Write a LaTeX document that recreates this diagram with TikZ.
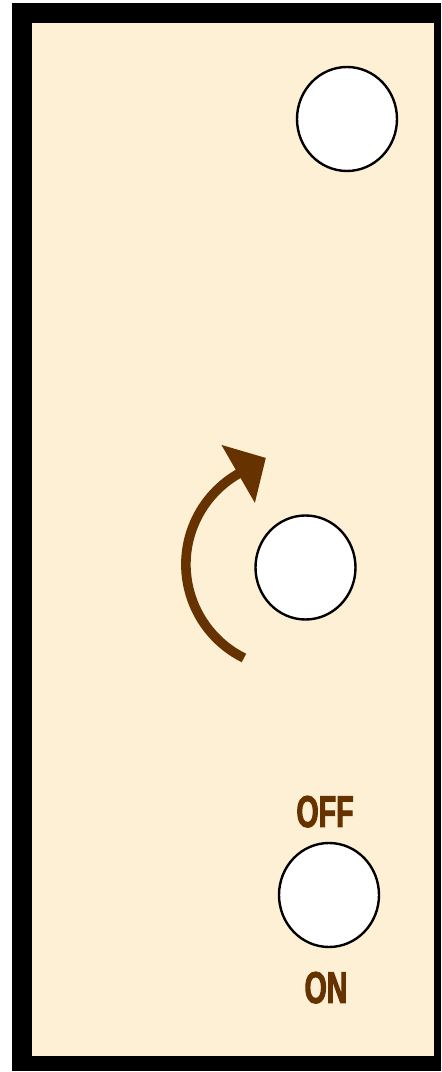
\documentclass[tikz,border=0pt]{standalone}
\usepackage{fontspec}
\usetikzlibrary{shapes.geometric,arrows.meta,positioning}
\newfontfamily\knobfont{Liberation Sans}[FakeStretch=0.64,FakeBold=2.2]
\definecolor{parchment}{RGB}{253,240,213}
\definecolor{knobbrown}{RGB}{102,51,0}
\tikzset{
  knob/.style={ellipse,draw=black,line width=1.2pt,fill=white,minimum width=50pt,minimum height=52pt,inner sep=0pt},
  knoblabel/.style={anchor=base,text=knobbrown,inner sep=0pt,font=\knobfont\bfseries\fontsize{22.3}{26}\selectfont}
}

\begin{document}
\begin{tikzpicture}[x=0.5pt,y=0.5pt]
\useasboundingbox (0,0) rectangle (441,1072);
% --- Panel (frame) ---
\fill[black] (12,1) rectangle (441,1069);
\fill[parchment] (32,16) rectangle (434,1049);

% --- Knobs ---
\node[knob] (knobtop) at (347,953) {};
\node[knob] (knobmid) at (305.5,504.5) {};
\node[knob] (knobbot) at (329,177) {};

% --- Turning arrow ---
\coordinate (turncentre) at (290.4,507.6);
\draw[knobbrown,line width=4.8pt,-{Triangle[length=16pt,width=32.5pt]}]
  ([shift={(243.6:104.5)}]turncentre) arc[start angle=243.6,end angle=120,radius=104.5] -- ++(30:32);

% --- Switch labels ---
\node[knoblabel] (off) at (325,245) {OFF};
\node[knoblabel] (on) at (326,69) {ON};
\end{tikzpicture}
\end{document}
